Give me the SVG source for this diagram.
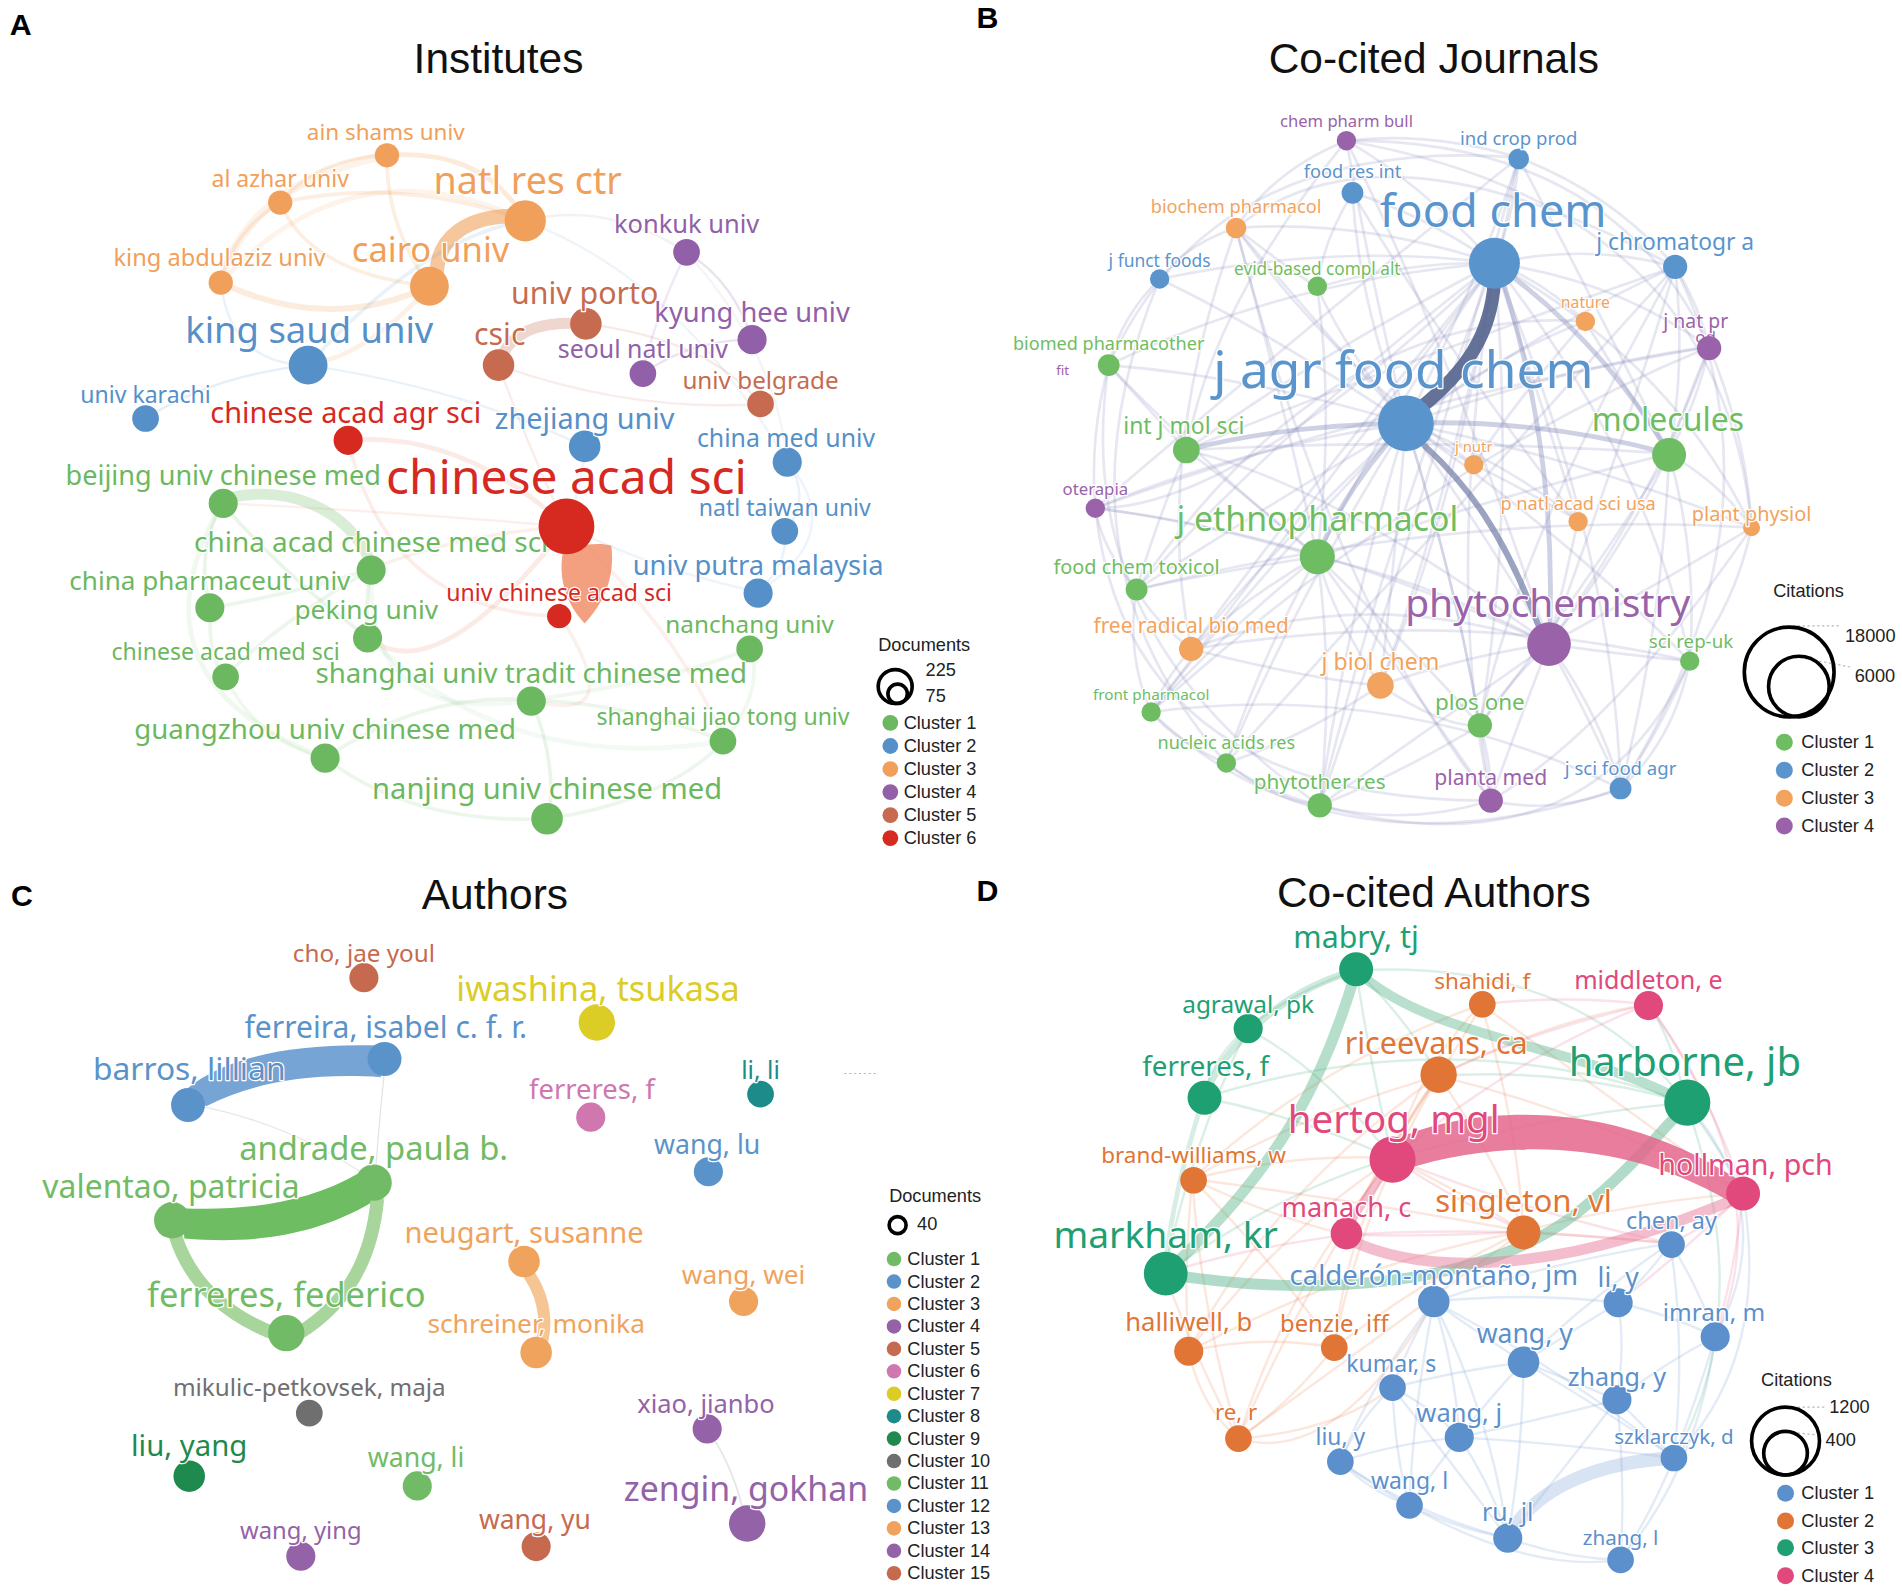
<svg xmlns="http://www.w3.org/2000/svg" width="1902" height="1591" viewBox="0 0 1902 1591">
<style>
.t{font-family:"Noto Sans","Open Sans",sans-serif;text-anchor:middle;dominant-baseline:central;paint-order:stroke;stroke:#fff;stroke-width:2px;stroke-linejoin:round}
.title{font-family:"Liberation Sans",Arial,sans-serif;font-size:35px;text-anchor:middle;fill:#111}
.pl{font-family:"Liberation Sans",Arial,sans-serif;font-size:25px;font-weight:bold;fill:#000}
.lg{font-family:"Liberation Sans",Arial,sans-serif;font-size:15px;fill:#222;dominant-baseline:central}
.lgc{fill:none;stroke:#000;stroke-width:3}
.dot{fill:none;stroke:#bbb;stroke-width:1;stroke-dasharray:2 2}
.e{fill:none;stroke-linecap:round}
.a1{fill:#6cb861}.a2{fill:#5590c9}.a3{fill:#f0a05a}.a4{fill:#9160a8}.a5{fill:#c66b4f}.a6{fill:#d6291f}
.sa1{stroke:#6cb861}.sa2{stroke:#5590c9}.sa3{stroke:#f0a05a}.sa4{stroke:#9160a8}.sa5{stroke:#c66b4f}.sa6{stroke:#e2704f}
.b1{fill:#6fbd63}.b2{fill:#5a94cd}.b3{fill:#f2a35d}.b4{fill:#9a63a9}
.eb{fill:none;stroke:#8a8fbf;stroke-opacity:.21;stroke-width:2.2}
.ebt{fill:none;stroke:#7f86b6;stroke-opacity:.38;stroke-width:4}
.c1{fill:#72bb66}.c2{fill:#5a93ca}.c3{fill:#f0a35c}.c4{fill:#9462a7}.c5{fill:#c56a4f}.c6{fill:#cf77ae}.c7{fill:#dccc26}.c8{fill:#1e8b8b}.c9{fill:#1f8a4d}.c10{fill:#6f6f6f}
.d1{fill:#5b90cc}.d2{fill:#e07535}.d3{fill:#1fa073}.d4{fill:#e1487b}
.ed1{fill:none;stroke:#7fa6d8;stroke-opacity:.22;stroke-width:2}
.ed2{fill:none;stroke:#ec9364;stroke-opacity:.22;stroke-width:2}
.ed3{fill:none;stroke:#5cb48e;stroke-opacity:.22;stroke-width:2}
.ed4{fill:none;stroke:#e87a9c;stroke-opacity:.22;stroke-width:2}
</style>
<rect x="0" y="0" width="1902" height="1591" fill="#fff"/>
<g transform="scale(1.213)">

<!-- ================= PANEL A ================= -->
<text class="pl" x="8" y="29">A</text>
<text class="title" x="411" y="60">Institutes</text>
<g id="edges-a">
<path class="e sa3" stroke-opacity=".22" stroke-width="4" d="M319,128 Q400,122 433,182"/>
<path class="e sa3" stroke-opacity=".18" stroke-width="3" d="M231,167 Q330,145 433,182"/>
<path class="e sa3" stroke-opacity=".18" stroke-width="3" d="M319,128 Q318,185 354,236"/>
<path class="e sa3" stroke-opacity=".18" stroke-width="3" d="M231,167 Q255,225 354,236"/>
<path class="e sa3" stroke-opacity=".2" stroke-width="5" d="M182,233 Q270,275 354,236"/>
<path class="e sa3" stroke-opacity=".12" stroke-width="4" d="M182,233 Q290,115 433,182"/>
<path class="e sa3" stroke-opacity=".18" stroke-width="3" d="M319,128 Q262,130 231,167"/>
<path class="e sa3" stroke-opacity=".18" stroke-width="3" d="M182,233 Q192,190 231,167"/>
<path class="e sa3" stroke-opacity=".12" stroke-width="7" d="M319,128 Q205,150 182,233"/>
<path class="e sa3" stroke-opacity=".15" stroke-width="4" d="M354,236 Q305,292 254,301"/>
<path class="e sa3" stroke-opacity=".6" stroke-width="12" d="M360,224 C362,195 385,178 425,178"/>
<path class="e sa2" stroke-opacity=".12" stroke-width="3" d="M254,301 Q350,195 433,182"/>
<path class="e sa2" stroke-opacity=".12" stroke-width="2" d="M254,301 Q190,300 182,233"/>
<path class="e sa2" stroke-opacity=".15" stroke-width="2" d="M254,301 Q175,310 120,345"/>
<path class="e sa2" stroke-opacity=".12" stroke-width="2" d="M254,301 Q380,320 482,368"/>
<path class="e sa2" stroke-opacity=".12" stroke-width="2" d="M649,381 Q670,410 647,438"/>
<path class="e sa2" stroke-opacity=".12" stroke-width="2" d="M647,438 Q650,465 625,488"/>
<path class="e sa2" stroke-opacity=".1" stroke-width="2" d="M649,381 Q700,440 625,488"/>
<path class="e sa2" stroke-opacity=".1" stroke-width="2" d="M625,488 Q540,470 467,434"/>
<path class="e sa2" stroke-opacity=".1" stroke-width="2" d="M482,368 Q480,400 467,434"/>
<path class="e sa2" stroke-opacity=".1" stroke-width="2" d="M433,182 Q560,230 649,381"/>
<path class="e" stroke="#aaa" stroke-opacity=".15" stroke-width="2" d="M433,182 Q500,165 566,208"/>
<path class="e" stroke="#aaa" stroke-opacity=".12" stroke-width="2" d="M566,208 Q640,290 649,381"/>
<path class="e sa5" stroke-opacity=".28" stroke-width="9" d="M411,301 Q422,262 483,267"/>
<path class="e sa5" stroke-opacity=".14" stroke-width="2" d="M483,267 Q585,280 627,333"/>
<path class="e sa5" stroke-opacity=".12" stroke-width="2" d="M411,301 Q520,340 627,333"/>
<path class="e sa5" stroke-opacity=".12" stroke-width="2" d="M411,301 Q440,380 467,434"/>
<path class="e sa4" stroke-opacity=".18" stroke-width="2" d="M620,280 Q570,280 530,308"/>
<path class="e sa4" stroke-opacity=".18" stroke-width="2" d="M566,208 Q605,232 620,280"/>
<path class="e sa4" stroke-opacity=".14" stroke-width="2" d="M566,208 Q540,260 530,308"/>
<path class="e sa6" stroke-opacity=".14" stroke-width="4" d="M287,363 Q380,355 467,434"/>
<path class="e sa6" stroke-opacity=".12" stroke-width="3" d="M287,363 Q320,505 462,508"/>
<path class="e sa6" stroke-opacity=".14" stroke-width="4" d="M467,434 Q360,570 304,526"/>
<path class="e sa6" stroke-opacity=".1" stroke-width="3" d="M462,508 Q520,600 438,577"/>
<path class="e sa6" stroke-opacity=".1" stroke-width="3" d="M467,434 Q560,520 597,611"/>
<path class="e sa6" stroke-opacity=".1" stroke-width="3" d="M467,434 Q380,440 306,469"/>
<path class="e sa6" stroke-opacity=".1" stroke-width="2" d="M467,434 Q300,420 183,415"/>
<path class="e sa1" stroke-opacity=".25" stroke-width="9" d="M190,410 C240,400 285,420 304,460"/>
<path class="e sa1" stroke-opacity=".14" stroke-width="3" d="M183,415 Q160,460 174,501"/>
<path class="e sa1" stroke-opacity=".14" stroke-width="3" d="M183,415 Q240,480 304,526"/>
<path class="e sa1" stroke-opacity=".14" stroke-width="3" d="M306,469 Q300,500 304,526"/>
<path class="e sa1" stroke-opacity=".12" stroke-width="3" d="M306,469 Q220,520 186,558"/>
<path class="e sa1" stroke-opacity=".12" stroke-width="3" d="M174,501 Q170,540 186,558"/>
<path class="e sa1" stroke-opacity=".12" stroke-width="3" d="M174,501 Q240,490 306,469"/>
<path class="e sa1" stroke-opacity=".12" stroke-width="3" d="M268,625 Q350,570 438,577"/>
<path class="e sa1" stroke-opacity=".14" stroke-width="3" d="M438,577 Q460,630 452,675"/>
<path class="e sa1" stroke-opacity=".12" stroke-width="3" d="M452,675 Q550,660 597,611"/>
<path class="e sa1" stroke-opacity=".12" stroke-width="3" d="M438,577 Q520,580 597,611"/>
<path class="e sa1" stroke-opacity=".12" stroke-width="3" d="M268,625 Q340,680 452,675"/>
<path class="e sa1" stroke-opacity=".1" stroke-width="3" d="M597,611 Q630,570 619,534"/>
<path class="e sa1" stroke-opacity=".1" stroke-width="3" d="M186,558 Q210,610 268,625"/>
<path class="e sa1" stroke-opacity=".1" stroke-width="4" d="M183,415 Q100,560 268,625"/>
<path class="e sa1" stroke-opacity=".08" stroke-width="4" d="M304,526 Q420,640 597,611"/>
<path class="e sa1" stroke-opacity=".08" stroke-width="4" d="M306,469 Q300,600 438,577"/>
<path class="e sa1" stroke-opacity=".1" stroke-width="3" d="M619,534 Q560,560 438,577"/>
<path fill-opacity=".78" style="fill:#f0855e" d="M465,450 C478,451 493,446 504,450 C507,475 499,496 482,514 C470,501 458,480 465,450 Z"/>
</g>
<g id="nodes-a">
<g id="a-ain"><circle class="a3" cx="319" cy="128" r="10"/><text class="t a3" x="318" y="108" font-size="18.5">ain shams univ</text></g>
<g id="a-alazhar"><circle class="a3" cx="231" cy="167" r="10"/><text class="t a3" x="231" y="147" font-size="19">al azhar univ</text></g>
<g id="a-nrc"><circle class="a3" cx="433" cy="182" r="17"/><text class="t a3" x="435" y="148" font-size="31">natl res ctr</text></g>
<g id="a-konkuk"><circle class="a4" cx="566" cy="208" r="11"/><text class="t a4" x="566" y="184" font-size="21">konkuk univ</text></g>
<g id="a-kau"><circle class="a3" cx="182" cy="233" r="10"/><text class="t a3" x="181" y="212" font-size="19.5">king abdulaziz univ</text></g>
<g id="a-cairo"><circle class="a3" cx="354" cy="236" r="16"/><text class="t a3" x="355" y="205" font-size="28.5">cairo univ</text></g>
<g id="a-porto"><circle class="a5" cx="483" cy="267" r="13"/><text class="t a5" x="482" y="241" font-size="25">univ porto</text></g>
<g id="a-khu"><circle class="a4" cx="620" cy="280" r="12"/><text class="t a4" x="620" y="257" font-size="22.5">kyung hee univ</text></g>
<g id="a-ksu"><circle class="a2" cx="254" cy="301" r="16"/><text class="t a2" x="255" y="271" font-size="30">king saud univ</text></g>
<g id="a-csic"><circle class="a5" cx="411" cy="301" r="13"/><text class="t a5" x="412" y="275" font-size="25">csic</text></g>
<g id="a-snu"><circle class="a4" cx="530" cy="308" r="11"/><text class="t a4" x="530" y="287" font-size="20.5">seoul natl univ</text></g>
<g id="a-belgrade"><circle class="a5" cx="627" cy="333" r="11"/><text class="t a5" x="627" y="313" font-size="20">univ belgrade</text></g>
<g id="a-karachi"><circle class="a2" cx="120" cy="345" r="11"/><text class="t a2" x="120" y="325" font-size="19">univ karachi</text></g>
<g id="a-caas"><circle class="a6" cx="287" cy="363" r="12"/><text class="t a6" x="285" y="339" font-size="23.8">chinese acad agr sci</text></g>
<g id="a-zju"><circle class="a2" cx="482" cy="368" r="13"/><text class="t a2" x="482" y="344" font-size="23.8">zhejiang univ</text></g>
<g id="a-cmu"><circle class="a2" cx="649" cy="381" r="12"/><text class="t a2" x="648" y="360" font-size="20.5">china med univ</text></g>
<g id="a-beijing"><circle class="a1" cx="184" cy="415" r="12"/><text class="t a1" x="184" y="391" font-size="22.3">beijing univ chinese med</text></g>
<g id="a-ntu"><circle class="a2" cx="647" cy="438" r="11"/><text class="t a2" x="647" y="418" font-size="19">natl taiwan univ</text></g>
<g id="a-cacms"><circle class="a1" cx="306" cy="470" r="12"/><text class="t a1" x="306" y="446" font-size="23">china acad chinese med sci</text></g>
<g id="a-upm"><circle class="a2" cx="625" cy="489" r="12"/><text class="t a2" x="625" y="465" font-size="22.5">univ putra malaysia</text></g>
<g id="a-cpu"><circle class="a1" cx="173" cy="501" r="12"/><text class="t a1" x="173" y="478" font-size="21.5">china pharmaceut univ</text></g>
<g id="a-peking"><circle class="a1" cx="303" cy="526" r="12"/><text class="t a1" x="302" y="502" font-size="21.7">peking univ</text></g>
<g id="a-nanchang"><circle class="a1" cx="618" cy="535" r="11"/><text class="t a1" x="618" y="514" font-size="20">nanchang univ</text></g>
<g id="a-cams"><circle class="a1" cx="186" cy="558" r="11"/><text class="t a1" x="186" y="537" font-size="19">chinese acad med sci</text></g>
<g id="a-sutcm"><circle class="a1" cx="438" cy="578" r="12"/><text class="t a1" x="438" y="554" font-size="22.8">shanghai univ tradit chinese med</text></g>
<g id="a-sjtu"><circle class="a1" cx="596" cy="611" r="11"/><text class="t a1" x="596" y="590" font-size="19">shanghai jiao tong univ</text></g>
<g id="a-gz"><circle class="a1" cx="268" cy="625" r="12"/><text class="t a1" x="268" y="600" font-size="22.8">guangzhou univ chinese med</text></g>
<g id="a-nj"><circle class="a1" cx="451" cy="675" r="13"/><text class="t a1" x="451" y="650" font-size="24">nanjing univ chinese med</text></g>
<g id="a-ucas"><circle class="a6" cx="461" cy="508" r="10"/><text class="t a6" x="461" y="488" font-size="19">univ chinese acad sci</text></g>
<g id="a-cas"><circle class="a6" cx="467" cy="434" r="23"/><text class="t a6" x="467" y="392" font-size="39.5">chinese acad sci</text></g>
</g>
<g id="legend-a">
<text class="lg" x="724" y="532" font-size="14.5">Documents</text>
<circle class="lgc" cx="738" cy="566" r="14"/>
<circle class="lgc" cx="740" cy="572" r="8"/>
<text class="lg" x="763" y="552" font-size="14">225</text>
<text class="lg" x="763" y="574" font-size="14">75</text>
<circle class="a1" cx="734" cy="596" r="6.5"/><text class="lg" x="745" y="596">Cluster 1</text>
<circle class="a2" cx="734" cy="615" r="6.5"/><text class="lg" x="745" y="615">Cluster 2</text>
<circle class="a3" cx="734" cy="634" r="6.5"/><text class="lg" x="745" y="634">Cluster 3</text>
<circle class="a4" cx="734" cy="653" r="6.5"/><text class="lg" x="745" y="653">Cluster 4</text>
<circle class="a5" cx="734" cy="672" r="6.5"/><text class="lg" x="745" y="672">Cluster 5</text>
<circle class="a6" cx="734" cy="691" r="6.5"/><text class="lg" x="745" y="691">Cluster 6</text>
</g>

<!-- ================= PANEL B ================= -->
<text class="pl" x="805" y="23">B</text>
<text class="title" x="1182" y="60">Co-cited Journals</text>
<g id="edges-b">
<path class="eb" d="M1232,217 Q1170,150 1110,116"/>
<path class="eb" d="M1232,217 Q1250,170 1252,130"/>
<path class="eb" d="M1232,217 Q1170,175 1115,159"/>
<path class="eb" d="M1232,217 Q1120,180 1019,188"/>
<path class="eb" d="M1232,217 Q1310,200 1381,220"/>
<path class="eb" d="M1232,217 Q1100,200 956,230"/>
<path class="eb" d="M1232,217 Q1160,215 1086,237"/>
<path class="eb" d="M1232,217 Q1270,230 1307,265"/>
<path class="eb" d="M1232,217 Q1330,230 1409,286"/>
<path class="eb" d="M1232,217 Q1060,230 914,301"/>
<path class="eb" d="M1232,217 Q1090,290 978,371"/>
<path class="ebt" d="M1232,217 Q1320,280 1376,374"/>
<path class="eb" d="M1232,217 Q1150,330 1086,459"/>
<path class="eb" d="M1232,217 Q1060,350 937,486"/>
<path class="ebt" d="M1240,235 Q1285,380 1277,531"/>
<path class="eb" d="M1232,217 Q1080,400 982,535"/>
<path class="eb" d="M1232,217 Q1360,380 1393,545"/>
<path class="eb" d="M1232,217 Q1250,420 1220,598"/>
<path class="eb" d="M1232,217 Q1140,450 1088,664"/>
<path class="eb" d="M1232,217 Q1330,450 1336,650"/>
<path class="eb" d="M1232,217 Q1380,300 1444,435"/>
<path class="eb" d="M1232,217 Q1200,420 1138,565"/>
<path class="eb" d="M1232,217 Q1270,330 1301,429"/>
<path class="eb" d="M1232,217 Q1020,420 903,419"/>
<path class="eb" d="M1232,217 Q1000,520 949,587"/>
<path class="eb" d="M1232,217 Q1190,480 1229,660"/>
<path class="eb" d="M1159,349 Q1130,230 1110,116"/>
<path class="eb" d="M1159,349 Q1220,230 1252,130"/>
<path class="eb" d="M1159,349 Q1120,250 1115,159"/>
<path class="eb" d="M1159,349 Q1080,260 1019,188"/>
<path class="eb" d="M1159,349 Q1290,260 1381,220"/>
<path class="eb" d="M1159,349 Q1040,270 956,230"/>
<path class="eb" d="M1159,349 Q1110,290 1086,237"/>
<path class="eb" d="M1159,349 Q1240,290 1307,265"/>
<path class="eb" d="M1159,349 Q1300,300 1409,286"/>
<path class="eb" d="M1159,349 Q1030,310 914,301"/>
<path class="ebt" d="M1159,349 Q1060,350 978,371"/>
<path class="ebt" d="M1159,349 Q1270,345 1376,374"/>
<path class="eb" d="M1159,349 Q1190,370 1215,383"/>
<path class="eb" d="M1159,349 Q1020,370 903,419"/>
<path class="ebt" d="M1159,349 Q1110,400 1086,459"/>
<path class="eb" d="M1159,349 Q1240,380 1301,429"/>
<path class="eb" d="M1159,349 Q1310,380 1444,435"/>
<path class="eb" d="M1159,349 Q1040,420 937,486"/>
<path class="eb" d="M1159,349 Q1060,440 982,535"/>
<path class="eb" d="M1159,349 Q1150,460 1138,565"/>
<path class="eb" d="M1159,349 Q1290,440 1393,545"/>
<path class="eb" d="M1159,349 Q1040,470 949,587"/>
<path class="eb" d="M1159,349 Q1200,480 1220,598"/>
<path class="eb" d="M1159,349 Q1070,490 1011,629"/>
<path class="eb" d="M1159,349 Q1110,510 1088,664"/>
<path class="eb" d="M1159,349 Q1210,510 1229,660"/>
<path class="eb" d="M1159,349 Q1270,500 1336,650"/>
<path class="eb" d="M1277,531 Q1200,300 1110,116"/>
<path class="eb" d="M1277,531 Q1370,400 1409,286"/>
<path class="eb" d="M1277,531 Q1250,600 1229,660"/>
<path class="eb" d="M1277,531 Q1180,480 1086,459"/>
<path class="eb" d="M1277,531 Q1340,450 1376,374"/>
<path class="eb" d="M1277,531 Q1370,480 1444,435"/>
<path class="eb" d="M1277,531 Q1340,360 1381,220"/>
<path class="eb" d="M1277,531 Q1245,560 1220,598"/>
<path class="eb" d="M1277,531 Q1080,440 903,419"/>
<path class="eb" d="M1277,531 Q1210,540 1138,565"/>
<path class="eb" d="M1277,531 Q1180,600 1088,664"/>
<path class="eb" d="M1277,531 Q1320,590 1336,650"/>
<path class="eb" d="M1277,531 Q1100,400 978,371"/>
<path class="eb" d="M1277,531 Q1340,540 1393,545"/>
<path class="eb" d="M1277,531 Q1120,480 982,535"/>
<path class="eb" d="M1086,459 Q990,430 903,419"/>
<path class="eb" d="M1086,459 Q990,380 914,301"/>
<path class="eb" d="M1086,459 Q1030,410 978,371"/>
<path class="eb" d="M1086,459 Q1010,470 937,486"/>
<path class="eb" d="M1086,459 Q1010,520 949,587"/>
<path class="eb" d="M1086,459 Q1100,560 1088,664"/>
<path class="eb" d="M1086,459 Q1160,560 1229,660"/>
<path class="eb" d="M1086,459 Q1030,490 982,535"/>
<path class="eb" d="M1086,459 Q1230,410 1376,374"/>
<path class="eb" d="M1086,459 Q1040,540 1011,629"/>
<path class="eb" d="M1086,459 Q1160,530 1220,598"/>
<path class="eb" d="M1086,459 Q1100,510 1138,565"/>
<path class="eb" d="M1086,459 Q1060,340 1019,188"/>
<path class="eb" d="M1086,459 Q1100,340 1086,237"/>
<path class="eb" d="M1376,374 Q1180,360 978,371"/>
<path class="eb" d="M1376,374 Q1400,330 1409,286"/>
<path class="eb" d="M1376,374 Q1420,400 1444,435"/>
<path class="eb" d="M1376,374 Q1400,460 1393,545"/>
<path class="eb" d="M1376,374 Q1310,480 1220,598"/>
<path class="eb" d="M1376,374 Q1370,520 1336,650"/>
<path class="eb" d="M1376,374 Q1340,320 1307,265"/>
<path class="eb" d="M1376,374 Q1390,300 1381,220"/>
<path class="eb" d="M1110,116 Q1180,108 1252,130"/>
<path class="eb" d="M1110,116 Q1050,140 1019,188"/>
<path class="eb" d="M1252,130 Q1330,160 1381,220"/>
<path class="eb" d="M1381,220 Q1400,250 1409,286"/>
<path class="eb" d="M1409,286 Q1440,360 1444,435"/>
<path class="eb" d="M1444,435 Q1430,500 1393,545"/>
<path class="eb" d="M1393,545 Q1380,610 1336,650"/>
<path class="eb" d="M1336,650 Q1280,672 1229,660"/>
<path class="eb" d="M1229,660 Q1160,682 1088,664"/>
<path class="eb" d="M1088,664 Q1040,652 1011,629"/>
<path class="eb" d="M1011,629 Q970,612 949,587"/>
<path class="eb" d="M949,587 Q928,540 937,486"/>
<path class="eb" d="M937,486 Q908,452 903,419"/>
<path class="eb" d="M903,419 Q898,360 914,301"/>
<path class="eb" d="M914,301 Q925,260 956,230"/>
<path class="eb" d="M956,230 Q980,200 1019,188"/>
<path class="eb" d="M914,301 Q880,520 1088,664"/>
<path class="eb" d="M1110,116 Q1330,115 1409,286"/>
<path class="eb" d="M903,419 Q930,660 1229,660"/>
<path class="eb" d="M956,230 Q860,460 1011,629"/>
<path class="eb" d="M1381,220 Q1480,420 1336,650"/>
<path class="eb" d="M1019,188 Q1140,90 1381,220"/>
<path class="eb" d="M1088,664 Q1310,725 1393,545"/>
<path class="eb" d="M949,587 Q1100,730 1336,650"/>
<path class="eb" d="M1110,116 Q1420,170 1444,435"/>
<path class="eb" d="M914,301 Q1000,110 1252,130"/>
<path class="eb" d="M978,371 Q940,330 914,301"/>
<path class="eb" d="M978,371 Q950,440 937,486"/>
<path class="eb" d="M1019,188 Q1060,220 1086,237"/>
<path class="eb" d="M1115,159 Q1090,200 1086,237"/>
<path class="eb" d="M1307,265 Q1250,330 1215,383"/>
<path class="eb" d="M1301,429 Q1250,400 1215,383"/>
<path class="eb" d="M982,535 Q950,510 937,486"/>
<path class="eb" d="M982,535 Q960,560 949,587"/>
<path class="eb" d="M1138,565 Q1190,600 1220,598"/>
<path class="eb" d="M1011,629 Q1050,660 1088,664"/>
<path class="eb" d="M1220,598 Q1230,630 1229,660"/>
<path class="eb" d="M1220,598 Q1150,640 1088,664"/>
<path class="eb" d="M1393,545 Q1370,600 1336,650"/>
<path class="eb" d="M1301,429 Q1290,480 1277,531"/>
<path class="eb" d="M1138,565 Q1080,560 982,535"/>
<path class="eb" d="M1138,565 Q1070,610 1011,629"/>
<path class="eb" d="M1409,286 Q1390,330 1376,374"/>
<path class="eb" d="M1252,130 Q1320,260 1376,374"/>
<path class="eb" d="M1110,116 Q1000,250 978,371"/>
<path class="eb" d="M1019,188 Q950,380 982,535"/>
<path class="eb" d="M1444,435 Q1330,600 1229,660"/>
<path class="eb" d="M1381,220 Q1250,450 1220,598"/>
<path class="eb" d="M1019,188 Q1100,300 1215,383"/>
<path class="eb" d="M1115,159 Q1200,300 1301,429"/>
<path class="eb" d="M1252,130 Q1200,400 1138,565"/>
<path class="eb" d="M1381,220 Q1150,300 978,371"/>
<path class="eb" d="M1409,286 Q1150,330 903,419"/>
<path class="eb" d="M1444,435 Q1200,420 937,486"/>
<path class="eb" d="M1393,545 Q1200,500 982,535"/>
<path class="eb" d="M1336,650 Q1150,560 949,587"/>
<path class="eb" d="M1229,660 Q1100,500 1019,188"/>
<path class="eb" d="M1088,664 Q1180,400 1252,130"/>
<path class="eb" d="M1011,629 Q1200,420 1381,220"/>
<path class="eb" d="M949,587 Q1180,380 1409,286"/>
<path class="eb" d="M937,486 Q1100,250 1307,265"/>
<path class="eb" d="M903,419 Q1100,250 1252,130"/>
<path fill="none" stroke="#7a84ab" stroke-opacity=".75" stroke-width="5" stroke-linecap="round" d="M1175,368 C1210,400 1240,440 1268,515"/>
<path fill="none" stroke="#58668f" stroke-opacity=".92" stroke-width="11" stroke-linecap="round" d="M1232,232 C1229,275 1210,305 1170,337"/>
</g>
<g id="nodes-b">
<g id="b-cpb"><circle class="b4" cx="1110" cy="116" r="8"/><text class="t b4" x="1110" y="99" font-size="13.7">chem pharm bull</text></g>
<g id="b-icp"><circle class="b2" cx="1252" cy="131" r="8.5"/><text class="t b2" x="1252" y="113" font-size="15.3">ind crop prod</text></g>
<g id="b-fri"><circle class="b2" cx="1115" cy="159" r="9"/><text class="t b2" x="1115" y="141" font-size="15">food res int</text></g>
<g id="b-bp"><circle class="b3" cx="1019" cy="188" r="8.5"/><text class="t b3" x="1019" y="170" font-size="15">biochem pharmacol</text></g>
<g id="b-jca"><circle class="b2" cx="1381" cy="220" r="10"/><text class="t b2" x="1381" y="199" font-size="18.8">j chromatogr a</text></g>
<g id="b-jff"><circle class="b2" cx="956" cy="230" r="8"/><text class="t b2" x="956" y="214" font-size="14.4">j funct foods</text></g>
<g id="b-eca"><circle class="b1" cx="1086" cy="236" r="8"/><text class="t b1" x="1086" y="221" font-size="14.2">evid-based compl alt</text></g>
<g id="b-nat"><circle class="b3" cx="1307" cy="265" r="8"/><text class="t b3" x="1307" y="249" font-size="13">nature</text></g>
<g id="b-jnp"><text class="t b4" x="1406" y="277" font-size="14">od</text><circle class="b4" cx="1409" cy="287" r="10"/><text class="t b4" x="1398" y="264" font-size="16">j nat pr</text></g>
<g id="b-bph"><circle class="b1" cx="914" cy="301" r="9"/><text class="t b1" x="914" y="283" font-size="14.9">biomed pharmacother</text></g>
<g id="b-fit"><text class="t b4" x="876" y="305" font-size="11">fit</text></g>
<g id="b-ijms"><circle class="b1" cx="978" cy="371" r="11"/><text class="t b1" x="976" y="350" font-size="18.9">int j mol sci</text></g>
<g id="b-mol"><circle class="b1" cx="1376" cy="375" r="14"/><text class="t b1" x="1375" y="345" font-size="26.4">molecules</text></g>
<g id="b-jnutr"><circle class="b3" cx="1215" cy="383" r="8"/><text class="t b3" x="1215" y="368" font-size="12.3">j nutr</text></g>
<g id="b-ote"><circle class="b4" cx="903" cy="419" r="8"/><text class="t b4" x="903" y="403" font-size="13.8">oterapia</text></g>
<g id="b-pnas"><circle class="b3" cx="1301" cy="430" r="8"/><text class="t b3" x="1301" y="415" font-size="15">p natl acad sci usa</text></g>
<g id="b-pp"><circle class="b3" cx="1444" cy="435" r="7"/><text class="t b3" x="1444" y="423" font-size="16.4">plant physiol</text></g>
<g id="b-jep"><circle class="b1" cx="1086" cy="459" r="14.5"/><text class="t b1" x="1086" y="427" font-size="27.9">j ethnopharmacol</text></g>
<g id="b-fct"><circle class="b1" cx="937" cy="486" r="9"/><text class="t b1" x="937" y="467" font-size="16.4">food chem toxicol</text></g>
<g id="b-frbm"><circle class="b3" cx="982" cy="535" r="10"/><text class="t b3" x="982" y="515" font-size="17.2">free radical bio med</text></g>
<g id="b-sru"><circle class="b1" cx="1393" cy="545" r="8"/><text class="t b1" x="1394" y="528" font-size="15.4">sci rep-uk</text></g>
<g id="b-jbc"><circle class="b3" cx="1138" cy="565" r="11"/><text class="t b3" x="1138" y="545" font-size="19">j biol chem</text></g>
<g id="b-fp"><circle class="b1" cx="949" cy="587" r="8"/><text class="t b1" x="949" y="572" font-size="12.6">front pharmacol</text></g>
<g id="b-plos"><circle class="b1" cx="1220" cy="598" r="10"/><text class="t b1" x="1220" y="578" font-size="18.5">plos one</text></g>
<g id="b-nar"><circle class="b1" cx="1011" cy="629" r="8"/><text class="t b1" x="1011" y="612" font-size="14.9">nucleic acids res</text></g>
<g id="b-jsfa"><circle class="b2" cx="1336" cy="650" r="9"/><text class="t b2" x="1336" y="633" font-size="15.3">j sci food agr</text></g>
<g id="b-pm"><circle class="b4" cx="1229" cy="660" r="10"/><text class="t b4" x="1229" y="640" font-size="17.4">planta med</text></g>
<g id="b-phr"><circle class="b1" cx="1088" cy="664" r="10"/><text class="t b1" x="1088" y="644" font-size="17.1">phytother res</text></g>
<g id="b-fc"><circle class="b2" cx="1232" cy="217" r="21"/><text class="t b2" x="1231" y="173" font-size="37.2">food chem</text></g>
<g id="b-jafc"><circle class="b2" cx="1159" cy="349" r="23"/><text class="t b2" x="1157" y="303" font-size="42.4">j agr food chem</text></g>
<g id="b-phy"><circle class="b4" cx="1277" cy="531" r="18"/><text class="t b4" x="1276" y="496" font-size="32.1">phytochemistry</text></g>
</g>
<g id="legend-b">
<text class="lg" x="1491" y="487" font-size="15" text-anchor="middle">Citations</text>
<line class="dot" x1="1478" y1="516" x2="1518" y2="516"/>
<line class="dot" x1="1484" y1="542" x2="1526" y2="550"/>
<circle class="lgc" cx="1475" cy="554" r="37"/>
<circle class="lgc" cx="1483" cy="566" r="25"/>
<text class="lg" x="1521" y="524" font-size="15">18000</text>
<text class="lg" x="1529" y="557" font-size="15">6000</text>
<circle class="b1" cx="1471" cy="612" r="7"/><text class="lg" x="1485" y="612" font-size="16">Cluster 1</text>
<circle class="b2" cx="1471" cy="635" r="7"/><text class="lg" x="1485" y="635" font-size="16">Cluster 2</text>
<circle class="b3" cx="1471" cy="658" r="7"/><text class="lg" x="1485" y="658" font-size="16">Cluster 3</text>
<circle class="b4" cx="1471" cy="681" r="7"/><text class="lg" x="1485" y="681" font-size="16">Cluster 4</text>
</g>

<!-- ================= PANEL C ================= -->
<text class="pl" x="9" y="747">C</text>
<text class="title" x="408" y="749">Authors</text>
<g id="edges-c">
<path class="e" stroke="#cfcfcf" stroke-opacity=".6" stroke-width="1" d="M318,873 Q312,930 309,974"/>
<path class="e" stroke="#cfcfcf" stroke-opacity=".5" stroke-width="1" d="M155,910 Q240,925 309,974"/>
<path class="e" stroke="#d5d5d5" stroke-opacity=".6" stroke-width="1.5" d="M583,1178 Q606,1210 615,1256"/>
<line class="dot" x1="696" y1="885" x2="722" y2="885"/>
<path fill="#6f9fd2" fill-opacity=".95" d="M155,897 C185,872 240,860 312,862 L314,888 C250,884 205,894 170,912 Z"/>
<path fill="#6ebd62" d="M150,996 C195,998 250,994 296,967 L307,991 C255,1022 200,1025 152,1021 Z"/>
<path class="e" stroke="#a8d59c" stroke-width="11" d="M145,1020 C158,1060 190,1086 228,1100"/>
<path class="e" stroke="#a8d59c" stroke-width="11" d="M311,990 C306,1040 285,1076 245,1100"/>
<path class="e" stroke="#f6c594" stroke-width="10" d="M437,1052 C450,1072 452,1095 444,1114"/>
</g>
<g id="nodes-c">
<g id="c-cho"><circle class="c5" cx="300" cy="806" r="12"/><text class="t c5" x="300" y="785" font-size="20">cho, jae youl</text></g>
<g id="c-iwashina"><circle class="c7" cx="492" cy="843" r="15"/><text class="t c7" x="493" y="814" font-size="28.3">iwashina, tsukasa</text></g>
<g id="c-ferreira"><circle class="c2" cx="317" cy="873" r="14"/><text class="t c2" x="318" y="846" font-size="24.8">ferreira, isabel c. f. r.</text></g>
<g id="c-barros"><circle class="c2" cx="155" cy="911" r="14"/><text class="t c2" x="156" y="880" font-size="26.2">barros, lillian</text></g>
<g id="c-lili"><circle class="c8" cx="627" cy="902" r="11"/><text class="t c8" x="627" y="881" font-size="20.5">li, li</text></g>
<g id="c-ferreresf"><circle class="c6" cx="487" cy="921" r="12"/><text class="t c6" x="488" y="897" font-size="22.6">ferreres, f</text></g>
<g id="c-wanglu"><circle class="c2" cx="584" cy="966" r="12"/><text class="t c2" x="583" y="943" font-size="22">wang, lu</text></g>
<g id="c-andrade"><circle class="c1" cx="308" cy="975" r="15"/><text class="t c1" x="308" y="946" font-size="27">andrade, paula b.</text></g>
<g id="c-valentao"><circle class="c1" cx="142" cy="1006" r="15"/><text class="t c1" x="141" y="977" font-size="26.3">valentao, patricia</text></g>
<g id="c-neugart"><circle class="c3" cx="432" cy="1040" r="13"/><text class="t c3" x="432" y="1016" font-size="24">neugart, susanne</text></g>
<g id="c-wangwei"><circle class="c3" cx="613" cy="1073" r="12"/><text class="t c3" x="613" y="1050" font-size="21.6">wang, wei</text></g>
<g id="c-federico"><circle class="c1" cx="236" cy="1099" r="15"/><text class="t c1" x="236" y="1066" font-size="28.4">ferreres, federico</text></g>
<g id="c-schreiner"><circle class="c3" cx="442" cy="1115" r="13"/><text class="t c3" x="442" y="1091" font-size="21.7">schreiner, monika</text></g>
<g id="c-mikulic"><circle class="c10" cx="255" cy="1165" r="11"/><text class="t c10" x="255" y="1143" font-size="20">mikulic-petkovsek, maja</text></g>
<g id="c-xiao"><circle class="c4" cx="583" cy="1178" r="12"/><text class="t c4" x="582" y="1157" font-size="21">xiao, jianbo</text></g>
<g id="c-liuyang"><circle class="c9" cx="156" cy="1217" r="13"/><text class="t c9" x="156" y="1191" font-size="24.2">liu, yang</text></g>
<g id="c-wangli"><circle class="c1" cx="344" cy="1225" r="12"/><text class="t c1" x="343" y="1201" font-size="22">wang, li</text></g>
<g id="c-zengin"><circle class="c4" cx="616" cy="1256" r="15"/><text class="t c4" x="615" y="1227" font-size="27.9">zengin, gokhan</text></g>
<g id="c-wangyu"><circle class="c5" cx="442" cy="1275" r="12"/><text class="t c5" x="441" y="1252" font-size="21.8">wang, yu</text></g>
<g id="c-wangying"><circle class="c4" cx="248" cy="1283" r="12"/><text class="t c4" x="248" y="1261" font-size="19.6">wang, ying</text></g>
</g>
<g id="legend-c">
<text class="lg" x="733" y="986" font-size="14.5">Documents</text>
<circle class="lgc" cx="740" cy="1010" r="7"/>
<text class="lg" x="756" y="1009">40</text>
<circle class="c1" cx="737" cy="1038" r="6"/><text class="lg" x="748" y="1038">Cluster 1</text>
<circle class="c2" cx="737" cy="1056.5" r="6"/><text class="lg" x="748" y="1056.5">Cluster 2</text>
<circle class="c3" cx="737" cy="1075" r="6"/><text class="lg" x="748" y="1075">Cluster 3</text>
<circle class="c4" cx="737" cy="1093.5" r="6"/><text class="lg" x="748" y="1093.5">Cluster 4</text>
<circle class="c5" cx="737" cy="1112" r="6"/><text class="lg" x="748" y="1112">Cluster 5</text>
<circle class="c6" cx="737" cy="1130.5" r="6"/><text class="lg" x="748" y="1130.5">Cluster 6</text>
<circle class="c7" cx="737" cy="1149" r="6"/><text class="lg" x="748" y="1149">Cluster 7</text>
<circle class="c8" cx="737" cy="1167.5" r="6"/><text class="lg" x="748" y="1167.5">Cluster 8</text>
<circle class="c9" cx="737" cy="1186" r="6"/><text class="lg" x="748" y="1186">Cluster 9</text>
<circle class="c10" cx="737" cy="1204.5" r="6"/><text class="lg" x="748" y="1204.5">Cluster 10</text>
<circle class="c1" cx="737" cy="1223" r="6"/><text class="lg" x="748" y="1223">Cluster 11</text>
<circle class="c2" cx="737" cy="1241.5" r="6"/><text class="lg" x="748" y="1241.5">Cluster 12</text>
<circle class="c3" cx="737" cy="1260" r="6"/><text class="lg" x="748" y="1260">Cluster 13</text>
<circle class="c4" cx="737" cy="1278.5" r="6"/><text class="lg" x="748" y="1278.5">Cluster 14</text>
<circle class="c5" cx="737" cy="1297" r="6"/><text class="lg" x="748" y="1297">Cluster 15</text>
</g>

<!-- ================= PANEL D ================= -->
<text class="pl" x="805" y="743">D</text>
<text class="title" x="1182" y="748">Co-cited Authors</text>
<g id="edges-d">
<path class="ed2" d="M1186,887 Q1160,920 1148,955"/>
<path class="ed2" d="M1186,887 Q1230,950 1256,1015"/>
<path class="ed2" stroke-width="3" d="M1186,887 Q1050,980 980,1114"/>
<path class="ed2" stroke-width="3" d="M1186,887 Q1120,1000 1100,1111"/>
<path class="ed2" d="M1186,887 Q1070,920 983,972"/>
<path class="ed2" stroke-width="3" d="M1186,887 Q1080,1050 1021,1186"/>
<path class="ed2" d="M1186,887 Q1210,850 1221,828"/>
<path class="ed2" d="M1186,887 Q1140,950 1109,1018"/>
<path class="ed2" d="M1186,887 Q1320,920 1437,984"/>
<path class="ed2" d="M1186,887 Q1280,840 1359,828"/>
<path class="ed2" d="M1221,828 Q1170,880 1148,955"/>
<path class="ed2" d="M1221,828 Q1250,920 1256,1015"/>
<path class="ed2" d="M1221,828 Q1080,880 983,972"/>
<path class="ed2" stroke-opacity=".3" stroke-width="3" d="M983,972 Q975,1050 980,1114"/>
<path class="ed2" d="M983,972 Q1050,1040 1100,1111"/>
<path class="ed2" d="M983,972 Q990,1080 1021,1186"/>
<path class="ed2" d="M983,972 Q1120,990 1256,1015"/>
<path class="ed2" d="M983,972 Q1070,950 1148,955"/>
<path class="ed2" stroke-opacity=".3" stroke-width="4" d="M980,1114 Q990,1160 1021,1186"/>
<path class="ed2" stroke-opacity=".35" stroke-width="5" d="M1100,1111 Q1060,1160 1021,1186"/>
<path class="ed2" d="M980,1114 Q1040,1100 1100,1111"/>
<path class="ed2" d="M980,1114 Q1120,1040 1256,1015"/>
<path class="ed2" d="M1100,1111 Q1180,1050 1256,1015"/>
<path class="ed2" d="M1021,1186 Q1140,1100 1256,1015"/>
<path class="ed2" d="M1256,1015 Q1200,980 1148,955"/>
<path class="ed2" d="M1256,1015 Q1350,990 1437,984"/>
<path class="ed2" d="M1256,1015 Q1320,1020 1377,1025"/>
<path class="ed2" d="M980,1114 Q1050,1020 1148,955"/>
<path class="ed2" d="M1100,1111 Q1110,1020 1148,955"/>
<path class="ed2" d="M1021,1186 Q1060,1060 1148,955"/>
<path class="ed2" d="M1021,1186 Q1100,1210 1182,1073"/>
<path class="ed2" d="M1021,1186 Q1100,1180 1148,1144"/>
<path class="ed2" d="M1221,828 Q1320,900 1437,984"/>
<path class="ed2" d="M983,972 Q1040,1000 1109,1018"/>
<path class="ed3" d="M1118,800 Q1070,815 1028,848"/>
<path class="ed3" d="M1028,848 Q1000,870 992,905"/>
<path class="ed3" d="M1028,848 Q980,950 960,1050"/>
<path class="ed3" d="M1118,800 Q1160,840 1186,887"/>
<path class="ed3" d="M1118,800 Q1130,880 1148,955"/>
<path class="ed3" d="M1390,909 Q1270,920 1148,955"/>
<path class="ed3" d="M1390,909 Q1290,880 1186,887"/>
<path class="ed3" d="M1390,909 Q1420,950 1437,984"/>
<path class="ed3" d="M1390,909 Q1380,860 1359,828"/>
<path class="ed3" d="M1028,848 Q1090,880 1148,955"/>
<path class="ed3" d="M992,905 Q1070,920 1148,955"/>
<path class="ed3" d="M960,1050 Q1060,980 1148,955"/>
<path class="ed3" d="M1118,800 Q1300,790 1390,909"/>
<path class="ed3" d="M992,905 Q1200,840 1390,909"/>
<path class="ed4" d="M1148,955 Q1250,870 1359,828"/>
<path class="ed4" d="M1359,828 Q1410,900 1437,984"/>
<path class="ed4" d="M1148,955 Q1200,990 1256,1015"/>
<path class="ed4" d="M1148,955 Q1260,1000 1377,1025"/>
<path class="ed4" d="M1109,1018 Q1240,1010 1377,1025"/>
<path class="ed4" d="M1109,1018 Q1180,1020 1256,1015"/>
<path class="ed4" d="M1359,828 Q1260,850 1186,887"/>
<path class="ed4" d="M1359,828 Q1290,820 1221,828"/>
<path class="ed4" d="M1437,984 Q1410,1010 1377,1025"/>
<path class="ed4" d="M1437,984 Q1390,1030 1334,1074"/>
<path class="ed4" d="M1437,984 Q1430,1050 1414,1102"/>
<path class="ed4" d="M1109,1018 Q1020,1030 960,1050"/>
<path class="ed1" d="M1182,1073 Q1220,1100 1256,1123"/>
<path class="ed1" d="M1182,1073 Q1160,1110 1148,1144"/>
<path class="ed1" d="M1182,1073 Q1260,1065 1334,1074"/>
<path class="ed1" d="M1182,1073 Q1200,1130 1203,1185"/>
<path class="ed1" d="M1182,1073 Q1130,1140 1105,1205"/>
<path class="ed1" d="M1182,1073 Q1165,1160 1162,1241"/>
<path class="ed1" d="M1182,1073 Q1230,1170 1243,1268"/>
<path class="ed1" d="M1182,1073 Q1290,1130 1380,1202"/>
<path class="ed1" d="M1256,1123 Q1300,1140 1333,1154"/>
<path class="ed1" d="M1256,1123 Q1230,1150 1203,1185"/>
<path class="ed1" d="M1256,1123 Q1200,1130 1148,1144"/>
<path class="ed1" d="M1256,1123 Q1300,1095 1334,1074"/>
<path class="ed1" d="M1256,1123 Q1255,1200 1243,1268"/>
<path class="ed1" d="M1256,1123 Q1320,1160 1380,1202"/>
<path class="ed1" d="M1334,1074 Q1340,1110 1333,1154"/>
<path class="ed1" d="M1334,1074 Q1380,1085 1414,1102"/>
<path class="ed1" d="M1334,1074 Q1360,1050 1377,1025"/>
<path class="ed1" d="M1377,1025 Q1400,1060 1414,1102"/>
<path class="ed1" d="M1414,1102 Q1370,1125 1333,1154"/>
<path class="ed1" d="M1414,1102 Q1400,1150 1380,1202"/>
<path class="ed1" d="M1333,1154 Q1360,1180 1380,1202"/>
<path class="ed1" d="M1333,1154 Q1270,1170 1203,1185"/>
<path class="ed1" d="M1333,1154 Q1290,1210 1243,1268"/>
<path class="ed1" d="M1333,1154 Q1340,1220 1336,1286"/>
<path class="ed1" d="M1148,1144 Q1120,1170 1105,1205"/>
<path class="ed1" d="M1148,1144 Q1180,1160 1203,1185"/>
<path class="ed1" d="M1148,1144 Q1150,1200 1162,1241"/>
<path class="ed1" d="M1203,1185 Q1150,1190 1105,1205"/>
<path class="ed1" d="M1203,1185 Q1180,1215 1162,1241"/>
<path class="ed1" d="M1203,1185 Q1230,1225 1243,1268"/>
<path class="ed1" d="M1203,1185 Q1290,1190 1380,1202"/>
<path class="ed1" d="M1105,1205 Q1130,1230 1162,1241"/>
<path class="ed1" d="M1162,1241 Q1200,1260 1243,1268"/>
<path class="ed1" d="M1243,1268 Q1290,1285 1336,1286"/>
<path class="ed1" d="M1380,1202 Q1360,1250 1336,1286"/>
<path class="ed1" d="M1414,1102 Q1400,1210 1336,1286"/>
<path class="ed1" d="M1377,1025 Q1310,1070 1256,1123"/>
<path class="ed1" d="M1377,1025 Q1390,1110 1380,1202"/>
<path class="ed1" d="M1148,1144 Q1200,1210 1243,1268"/>
<path class="ed1" d="M1182,1073 Q1280,1040 1377,1025"/>
<path class="ed1" d="M1105,1205 Q1170,1250 1243,1268"/>
<path class="ed1" d="M1105,1205 Q1240,1300 1336,1286"/>
<path class="ed1" d="M1390,909 Q1470,1000 1414,1102"/>
<path class="ed1" d="M1437,984 Q1460,1120 1380,1202"/>
<path class="ed2" d="M960,1050 Q990,1130 1021,1186"/>
<path class="ed3" d="M1390,909 Q1450,1080 1380,1202"/>
<path class="ed4" d="M1359,828 Q1470,980 1414,1102"/>
<path class="e" stroke="#4fb084" stroke-opacity=".42" stroke-width="9" d="M1118,800 C1095,880 1060,960 960,1050"/>
<path class="e" stroke="#4fb084" stroke-opacity=".4" stroke-width="8" d="M1118,800 C1180,858 1300,860 1390,909"/>
<path class="e" stroke="#4fb084" stroke-opacity=".45" stroke-width="9" d="M960,1050 C1080,1070 1220,1062 1300,1000 C1350,960 1370,930 1390,912"/>
<path class="e" stroke="#4fb084" stroke-opacity=".28" stroke-width="6" d="M992,905 C1010,860 1060,815 1118,800"/>
<path class="e" stroke="#4fb084" stroke-opacity=".22" stroke-width="4" d="M992,905 C975,960 965,1000 960,1050"/>
<path class="e" stroke="#e77c9c" stroke-opacity=".5" stroke-width="9" d="M1112,1022 C1160,1045 1220,1045 1280,1035 C1340,1025 1390,1005 1432,988"/>
<path class="e" stroke="#e77c9c" stroke-opacity=".5" stroke-width="7" d="M1148,955 C1130,985 1115,1000 1109,1018"/>
<path fill="#e4668c" fill-opacity=".85" d="M1158,936 C1220,912 1330,905 1432,972 L1425,990 C1340,940 1240,938 1158,964 Z"/>
<path class="e" stroke="#8fb0dc" stroke-opacity=".35" stroke-width="11" d="M1380,1202 C1320,1205 1265,1225 1243,1268"/>
</g>
<g id="nodes-d">
<g id="d-mabry"><circle class="d3" cx="1118" cy="799" r="14"/><text class="t d3" x="1118" y="772" font-size="25">mabry, tj</text></g>
<g id="d-shahidi"><circle class="d2" cx="1222" cy="828" r="11"/><text class="t d2" x="1222" y="808" font-size="18.5">shahidi, f</text></g>
<g id="d-middleton"><circle class="d4" cx="1359" cy="829" r="12"/><text class="t d4" x="1359" y="807" font-size="20.7">middleton, e</text></g>
<g id="d-agrawal"><circle class="d3" cx="1029" cy="848" r="12"/><text class="t d3" x="1029" y="827" font-size="20.1">agrawal, pk</text></g>
<g id="d-riceevans"><circle class="d2" cx="1186" cy="886" r="15"/><text class="t d2" x="1184" y="859" font-size="25.2">riceevans, ca</text></g>
<g id="d-harborne"><circle class="d3" cx="1391" cy="909" r="19"/><text class="t d3" x="1389" y="874" font-size="33">harborne, jb</text></g>
<g id="d-ferreres"><circle class="d3" cx="993" cy="905" r="14"/><text class="t d3" x="994" y="878" font-size="22.8">ferreres, f</text></g>
<g id="d-brand"><circle class="d2" cx="984" cy="973" r="11"/><text class="t d2" x="984" y="952" font-size="18.5">brand-williams, w</text></g>
<g id="d-hollman"><circle class="d4" cx="1437" cy="984" r="14"/><text class="t d4" x="1439" y="959" font-size="23.6">hollman, pch</text></g>
<g id="d-manach"><circle class="d4" cx="1110" cy="1017" r="13"/><text class="t d4" x="1110" y="995" font-size="22.4">manach, c</text></g>
<g id="d-singleton"><circle class="d2" cx="1256" cy="1016" r="14"/><text class="t d2" x="1256" y="989" font-size="25.7">singleton, vl</text></g>
<g id="d-chen"><circle class="d1" cx="1378" cy="1026" r="11"/><text class="t d1" x="1378" y="1006" font-size="19.3">chen, ay</text></g>
<g id="d-markham"><circle class="d3" cx="961" cy="1050" r="18"/><text class="t d3" x="961" y="1017" font-size="30.7">markham, kr</text></g>
<g id="d-calderon"><circle class="d1" cx="1182" cy="1073" r="13"/><text class="t d1" x="1182" y="1050" font-size="22.8">calderón-montaño, jm</text></g>
<g id="d-liy"><circle class="d1" cx="1334" cy="1074" r="12"/><text class="t d1" x="1334" y="1053" font-size="21.8">li, y</text></g>
<g id="d-imran"><circle class="d1" cx="1414" cy="1102" r="12"/><text class="t d1" x="1413" y="1081" font-size="20">imran, m</text></g>
<g id="d-halliwell"><circle class="d2" cx="980" cy="1114" r="12"/><text class="t d2" x="980" y="1089" font-size="21.1">halliwell, b</text></g>
<g id="d-benzie"><circle class="d2" cx="1100" cy="1111" r="11"/><text class="t d2" x="1100" y="1091" font-size="19.6">benzie, iff</text></g>
<g id="d-wangy"><circle class="d1" cx="1256" cy="1123" r="13"/><text class="t d1" x="1257" y="1099" font-size="21.9">wang, y</text></g>
<g id="d-kumar"><circle class="d1" cx="1148" cy="1144" r="11"/><text class="t d1" x="1147" y="1124" font-size="19">kumar, s</text></g>
<g id="d-zhangy"><circle class="d1" cx="1333" cy="1154" r="12"/><text class="t d1" x="1333" y="1134" font-size="20.7">zhang, y</text></g>
<g id="d-wangj"><circle class="d1" cx="1203" cy="1185" r="12"/><text class="t d1" x="1203" y="1164" font-size="21">wang, j</text></g>
<g id="d-rer"><circle class="d2" cx="1021" cy="1186" r="11"/><text class="t d2" x="1019" y="1164" font-size="18.4">re, r</text></g>
<g id="d-liuy"><circle class="d1" cx="1105" cy="1205" r="11"/><text class="t d1" x="1105" y="1184" font-size="18.8">liu, y</text></g>
<g id="d-szk"><circle class="d1" cx="1380" cy="1202" r="11"/><text class="t d1" x="1380" y="1184" font-size="16.9">szklarczyk, d</text></g>
<g id="d-wangl"><circle class="d1" cx="1162" cy="1241" r="11"/><text class="t d1" x="1162" y="1220" font-size="18.9">wang, l</text></g>
<g id="d-rujl"><circle class="d1" cx="1243" cy="1268" r="12"/><text class="t d1" x="1243" y="1246" font-size="20.4">ru, jl</text></g>
<g id="d-zhangl"><circle class="d1" cx="1336" cy="1286" r="11"/><text class="t d1" x="1336" y="1267" font-size="17">zhang, l</text></g>
<g id="d-hertog"><circle class="d4" cx="1148" cy="956" r="19"/><text class="t d4" x="1149" y="922" font-size="31.7">hertog, mgl</text></g>
</g>
<g id="legend-d">
<text class="lg" x="1481" y="1138" font-size="15" text-anchor="middle">Citations</text>
<line class="dot" x1="1478" y1="1160" x2="1505" y2="1160"/>
<line class="dot" x1="1478" y1="1181" x2="1500" y2="1183"/>
<circle class="lgc" cx="1472" cy="1188" r="28"/>
<circle class="lgc" cx="1472" cy="1198" r="18"/>
<text class="lg" x="1508" y="1160" font-size="15">1200</text>
<text class="lg" x="1505" y="1187" font-size="15">400</text>
<circle class="d1" cx="1472" cy="1231" r="7"/><text class="lg" x="1485" y="1231" font-size="16">Cluster 1</text>
<circle class="d2" cx="1472" cy="1254" r="7"/><text class="lg" x="1485" y="1254" font-size="16">Cluster 2</text>
<circle class="d3" cx="1472" cy="1276" r="7"/><text class="lg" x="1485" y="1276" font-size="16">Cluster 3</text>
<circle class="d4" cx="1472" cy="1299" r="7"/><text class="lg" x="1485" y="1299" font-size="16">Cluster 4</text>
</g>
</g>
</svg>
